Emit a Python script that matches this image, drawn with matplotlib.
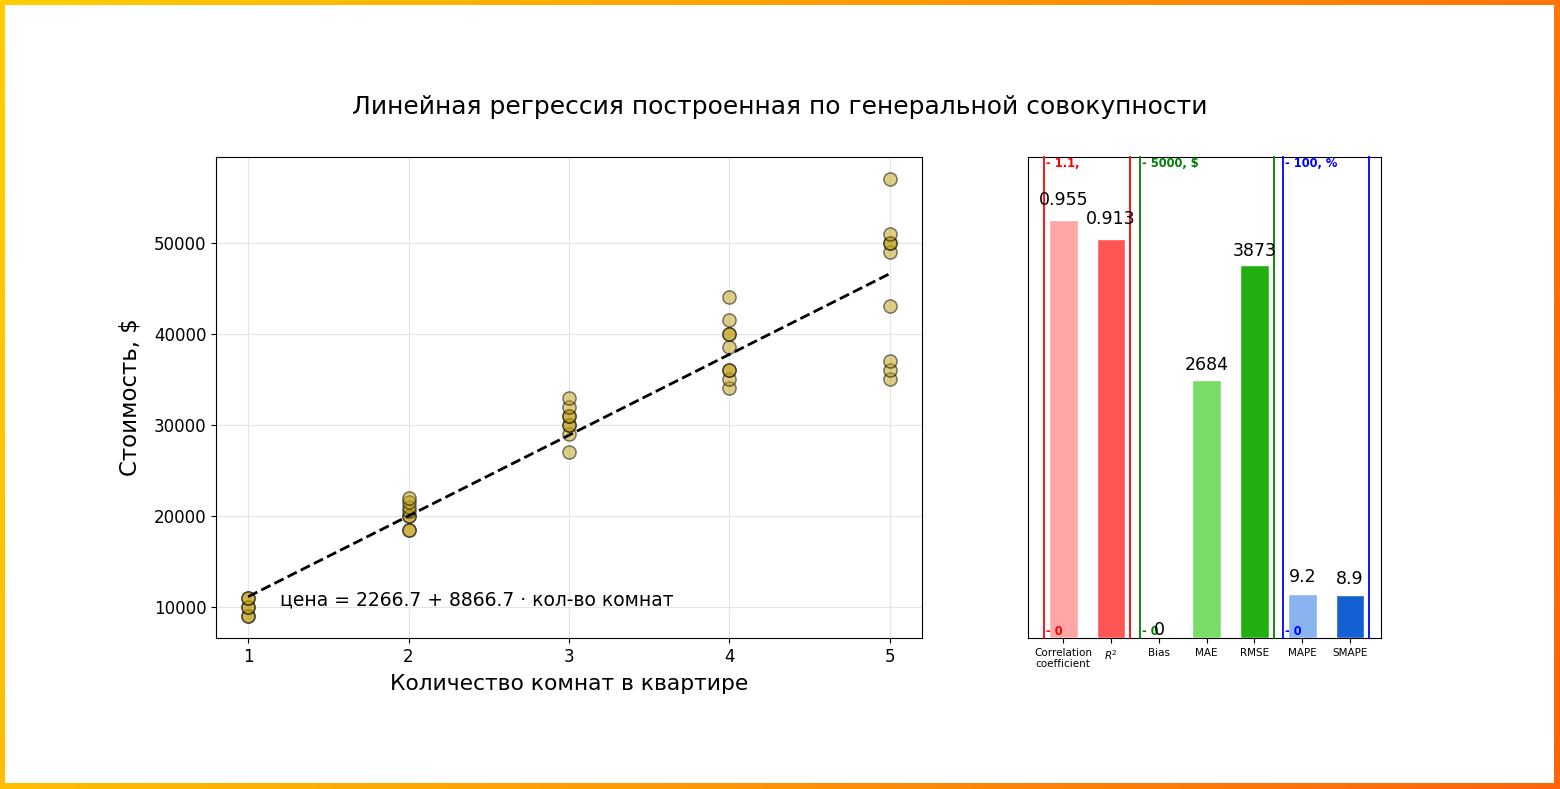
import numpy as np
import matplotlib
matplotlib.use("Agg")
import matplotlib.pyplot as plt
from matplotlib.patches import Rectangle

# ---------------- data ----------------
rooms_1 = [9000, 9000, 10000, 10000, 11000, 11000]
rooms_2 = [18500, 18500, 20000, 20000, 20500, 21000, 21500, 22000]
rooms_3 = [27000, 29000, 30000, 30000, 31000, 31000, 32000, 33000]
rooms_4 = [34000, 35000, 36000, 36000, 38500, 40000, 40000, 41500, 44000]
rooms_5 = [35000, 36000, 37000, 43000, 49000, 50000, 50000, 51000, 57000]
room_counts = [1, 2, 3, 4, 5]
intercept = 2266.7
slope = 8866.7

metric_names = ["Correlation\ncoefficient", "$R^2$", "Bias", "MAE", "RMSE", "MAPE", "SMAPE"]
metric_values = [0.955, 0.913, 0, 2684, 3873, 9.2, 8.9]
metric_groups = [[0, 1], [2, 3, 4], [5, 6]]
group_limits = [1.1, 5000, 100]
group_top_labels = ["1.1,", "5000, $", "100, %"]

# ---------------- style ----------------
bar_colors = ["#ffa6a6", "#ff5555", "#ffffff", "#77dd66", "#22b010", "#8ab4f0", "#1560d0"]
group_colors = ["red", "green", "blue"]
label_offsets = [8, 4, 5.5]
point_color = "#bf9f12"

fig = plt.figure(figsize=(15.6, 7.89), dpi=100)

# gradient frame
bg = fig.add_axes([0, 0, 1, 1], zorder=-10)
bg.axis("off")
xx, yy = np.meshgrid(np.linspace(0, 1, 400), np.linspace(0, 1, 200))
t = 0.85 * xx + 0.15 * yy
c0 = np.array([255, 206, 0]) / 255
c1 = np.array([255, 100, 10]) / 255
img = c0[None, None, :] * (1 - t[..., None]) + c1[None, None, :] * t[..., None]
bg.imshow(img, extent=[0, 1, 0, 1], aspect="auto", origin="upper")
bg.add_patch(Rectangle((5 / 1560, 6 / 789), 1 - 11 / 1560, 1 - 11 / 789,
                       facecolor="white", edgecolor="none"))
bg.set_xlim(0, 1)
bg.set_ylim(0, 1)

fig.text(0.5, 0.864, "Линейная регрессия построенная по генеральной совокупности",
         ha="center", va="center", fontsize=18)

# ---------------- left: scatter + regression ----------------
ax = fig.add_axes([216 / 1560, 1 - 638 / 789, 706 / 1560, 481 / 789])
groups = [rooms_1, rooms_2, rooms_3, rooms_4, rooms_5]
xs = np.concatenate([[r] * len(g) for r, g in zip(room_counts, groups)])
ys = np.concatenate(groups)
ax.scatter(xs, ys, s=90, color=point_color, alpha=0.5, edgecolors="black",
           linewidths=1.1, zorder=2)
xl = np.array([min(room_counts), max(room_counts)])
ax.plot(xl, intercept + slope * xl, "k--", lw=2, zorder=3)
ax.grid(True, color="#e4e4e4", lw=0.8)
ax.set_axisbelow(True)
ax.set_xticks(room_counts)
ax.set_yticks([10000, 20000, 30000, 40000, 50000])
ax.tick_params(labelsize=12)
ax.set_xlabel("Количество комнат в квартире", fontsize=15.7, labelpad=6)
ax.set_ylabel("Стоимость, $", fontsize=16.5, labelpad=9)
ax.text(1.2, 10800, "цена = 2266.7 + 8866.7 · кол-во комнат", fontsize=13.5,
        ha="left", va="center")

# ---------------- right: metrics ----------------
ax2 = fig.add_axes([1028 / 1560, 1 - 638 / 789, 353 / 1560, 481 / 789])
ax2.set_xlim(-0.738, 6.647)
ax2.set_ylim(0, 1)
ax2.set_yticks([])
ax2.set_xticks(range(len(metric_names)))
ax2.set_xticklabels(metric_names, fontsize=7.5)

for gi, idx in enumerate(metric_groups):
    x0, x1 = idx[0] - 0.4, idx[-1] + 0.4
    col = group_colors[gi]
    inner = ax2.inset_axes([x0, 0, x1 - x0, 1], transform=ax2.get_xaxis_transform())
    inner.set_xlim(x0, x1)
    inner.set_ylim(0, group_limits[gi])
    inner.patch.set_alpha(0)
    inner.set_xticks([])
    for s in ("top", "bottom"):
        inner.spines[s].set_visible(False)
    for s in ("left", "right"):
        inner.spines[s].set_color(col)
        inner.spines[s].set_linewidth(1.3)
    vals = [metric_values[i] for i in idx]
    inner.bar(idx, vals, width=0.6, color=[bar_colors[i] for i in idx],
              edgecolor="white", linewidth=1)
    for i, v in zip(idx, vals):
        off = label_offsets[gi] if v != 0 else -1
        inner.annotate(f"{v:g}", (i, v), xytext=(0, off),
                       textcoords="offset points",
                       ha="center", va="bottom", fontsize=12.5)
    inner.set_yticks([0, group_limits[gi]])
    inner.set_yticklabels(["- 0", "- " + group_top_labels[gi]])
    inner.tick_params(axis="y", direction="in", length=0, pad=-1.5, colors=col,
                      labelsize=8.3)
    labs = inner.get_yticklabels()
    for lab in labs:
        lab.set_ha("left")
        lab.set_fontweight("bold")
    labs[0].set_va("bottom")
    labs[1].set_va("top")

fig.savefig("out.png", dpi=100)
